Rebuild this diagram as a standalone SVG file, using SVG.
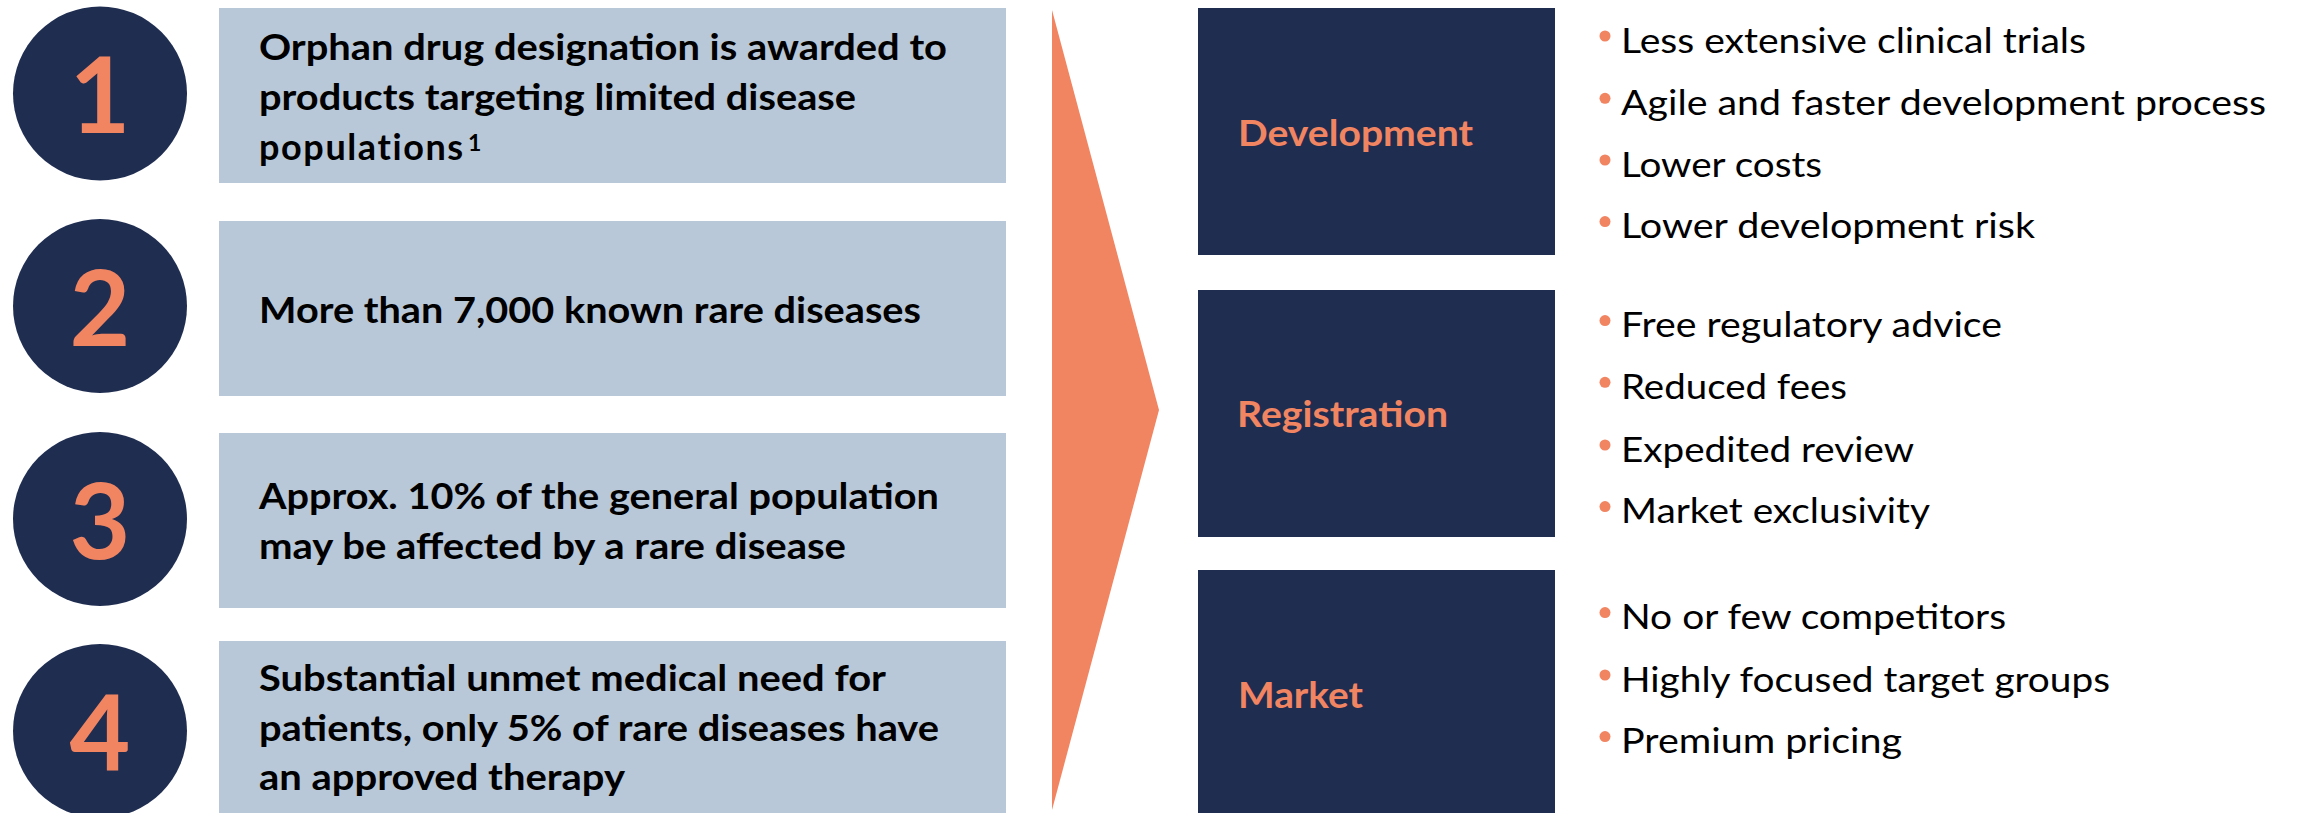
<svg xmlns="http://www.w3.org/2000/svg" width="2298" height="813" viewBox="0 0 2298 813">
<style>
.num{font-family:Lato,"Liberation Sans",sans-serif;font-weight:700;font-size:105px;fill:#F18461;text-anchor:middle}
.circ{fill:#1F2D51}
.box{fill:#B8C8D8}
.dark{fill:#1F2D51}
.lt{font-family:Lato,"Liberation Sans",sans-serif;font-weight:700;font-size:36px;fill:#000}
.sup{font-family:Lato,"Liberation Sans",sans-serif;font-weight:700;font-size:23px;fill:#000}
.lab{font-family:Lato,"Liberation Sans",sans-serif;font-weight:700;font-size:37px;fill:#F18461}
.bt{font-family:Lato,"Liberation Sans",sans-serif;font-weight:400;font-size:35px;fill:#000}
.dot{fill:#F18461}
</style>
<rect width="2298" height="813" fill="#fff"/>
<g id="item1">
<circle class="circ" cx="100" cy="93.5" r="87"/>
<text class="num" x="100" y="133">1</text>
<rect class="box" x="219" y="8" width="787" height="175"/>
<text class="lt" x="259" y="59.5" textLength="688" lengthAdjust="spacingAndGlyphs">Orphan drug designation is awarded to</text>
<text class="lt" x="259" y="110" textLength="597" lengthAdjust="spacingAndGlyphs">products targeting limited disease</text>
<text class="lt" x="259" y="160" letter-spacing="1.6">populations</text>
<text class="sup" x="468" y="151">1</text>
</g>
<g id="item2">
<circle class="circ" cx="100" cy="306" r="87"/>
<text class="num" x="100" y="345.7">2</text>
<rect class="box" x="219" y="221" width="787" height="175"/>
<text class="lt" x="259" y="322.5" textLength="662" lengthAdjust="spacingAndGlyphs">More than 7,000 known rare diseases</text>
</g>
<g id="item3">
<circle class="circ" cx="100" cy="519" r="87"/>
<text class="num" x="100" y="559.3">3</text>
<rect class="box" x="219" y="433" width="787" height="175"/>
<text class="lt" x="259" y="509" textLength="680" lengthAdjust="spacingAndGlyphs">Approx. 10% of the general population</text>
<text class="lt" x="259" y="559.3" textLength="587" lengthAdjust="spacingAndGlyphs">may be affected by a rare disease</text>
</g>
<g id="item4">
<circle class="circ" cx="100" cy="731" r="87"/>
<text class="num" x="100" y="770.7">4</text>
<rect class="box" x="219" y="641" width="787" height="176"/>
<text class="lt" x="259" y="691" textLength="627" lengthAdjust="spacingAndGlyphs">Substantial unmet medical need for</text>
<text class="lt" x="259" y="740.7" textLength="680" lengthAdjust="spacingAndGlyphs">patients, only 5% of rare diseases have</text>
<text class="lt" x="259" y="790" textLength="366" lengthAdjust="spacingAndGlyphs">an approved therapy</text>
</g>
<g id="arrow">
<polygon points="1052,10 1159,410 1052,810" fill="#F18461"/>
</g>
<g id="development">
<rect class="dark" x="1198" y="8" width="357" height="247"/>
<text class="lab" x="1238" y="145.7" textLength="235" lengthAdjust="spacingAndGlyphs">Development</text>
<circle class="dot" cx="1605" cy="36" r="5.5"/>
<text class="bt" x="1621" y="52.7" textLength="465" lengthAdjust="spacingAndGlyphs">Less extensive clinical trials</text>
<circle class="dot" cx="1605" cy="98.3" r="5.5"/>
<text class="bt" x="1621" y="115" textLength="645" lengthAdjust="spacingAndGlyphs">Agile and faster development process</text>
<circle class="dot" cx="1605" cy="160" r="5.5"/>
<text class="bt" x="1621" y="176.7" textLength="201" lengthAdjust="spacingAndGlyphs">Lower costs</text>
<circle class="dot" cx="1605" cy="221.6" r="5.5"/>
<text class="bt" x="1621" y="238.3" textLength="414" lengthAdjust="spacingAndGlyphs">Lower development risk</text>
</g>
<g id="registration">
<rect class="dark" x="1198" y="290" width="357" height="247"/>
<text class="lab" x="1237" y="427.3" textLength="211" lengthAdjust="spacingAndGlyphs">Registration</text>
<circle class="dot" cx="1605" cy="320.6" r="5.5"/>
<text class="bt" x="1621" y="337.3" textLength="381" lengthAdjust="spacingAndGlyphs">Free regulatory advice</text>
<circle class="dot" cx="1605" cy="382.3" r="5.5"/>
<text class="bt" x="1621" y="399" textLength="226" lengthAdjust="spacingAndGlyphs">Reduced fees</text>
<circle class="dot" cx="1605" cy="445" r="5.5"/>
<text class="bt" x="1621" y="461.7" textLength="293" lengthAdjust="spacingAndGlyphs">Expedited review</text>
<circle class="dot" cx="1605" cy="506.6" r="5.5"/>
<text class="bt" x="1621" y="523.3" textLength="309" lengthAdjust="spacingAndGlyphs">Market exclusivity</text>
</g>
<g id="market">
<rect class="dark" x="1198" y="570" width="357" height="247"/>
<text class="lab" x="1238" y="708.3" textLength="125" lengthAdjust="spacingAndGlyphs">Market</text>
<circle class="dot" cx="1605" cy="612.6" r="5.5"/>
<text class="bt" x="1621" y="629.3" textLength="385" lengthAdjust="spacingAndGlyphs">No or few competitors</text>
<circle class="dot" cx="1605" cy="675" r="5.5"/>
<text class="bt" x="1621" y="691.7" textLength="489" lengthAdjust="spacingAndGlyphs">Highly focused target groups</text>
<circle class="dot" cx="1605" cy="736.6" r="5.5"/>
<text class="bt" x="1621" y="753.3" textLength="281" lengthAdjust="spacingAndGlyphs">Premium pricing</text>
</g>
</svg>
